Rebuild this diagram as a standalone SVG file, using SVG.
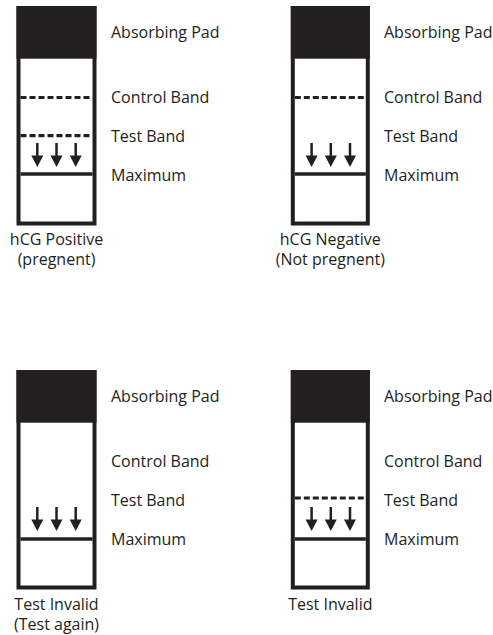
<svg xmlns="http://www.w3.org/2000/svg" width="493" height="635" viewBox="0 0 493 635">
<style>
  text { font-family: "Open Sans", "Liberation Sans", sans-serif; font-size: 16px; fill: #231f20; }
  .mid { text-anchor: middle; }
  .frame { fill: #ffffff; stroke: #231f20; stroke-width: 4; }
  .pad { fill: #231f20; }
  .max { stroke: #231f20; stroke-width: 3.5; fill: none; }
  .band { stroke: #231f20; stroke-width: 3.2; stroke-dasharray: 6 3; fill: none; }
  .shaft { stroke: #231f20; stroke-width: 2.5; fill: none; }
  .head { fill: #231f20; }
</style>
<defs>
  <g id="arrows">
    <line class="shaft" x1="20.8" y1="0" x2="20.8" y2="15"/>
    <polygon class="head" points="14.8,12.5 26.8,12.5 20.8,24"/>
    <line class="shaft" x1="40" y1="0" x2="40" y2="15"/>
    <polygon class="head" points="34,12.5 46,12.5 40,24"/>
    <line class="shaft" x1="59.2" y1="0" x2="59.2" y2="15"/>
    <polygon class="head" points="53.2,12.5 65.2,12.5 59.2,24"/>
  </g>
  <g id="labels">
    <text x="0" y="37.5">Absorbing Pad</text>
    <text x="0" y="103">Control Band</text>
    <text x="0" y="141.5">Test Band</text>
    <text x="0" y="181">Maximum</text>
  </g>
</defs>

<g id="strip-positive" transform="translate(16.5,0)">
  <rect class="frame" x="2" y="8" width="76" height="215.5"/>
  <rect class="pad" x="0" y="6" width="80" height="52.7"/>
  <line class="band" x1="4" y1="97.5" x2="76" y2="97.5"/>
  <line class="band" x1="4" y1="135.7" x2="76" y2="135.7"/>
  <use href="#arrows" transform="translate(0,143)"/>
  <line class="max" x1="4" y1="174" x2="76" y2="174"/>
  <use href="#labels" transform="translate(94.5,0)"/>
  <text class="mid" x="40" y="245">hCG Positive</text>
  <text class="mid" x="40" y="265">(pregnent)</text>
</g>

<g id="strip-negative" transform="translate(290.8,0)">
  <rect class="frame" x="2" y="8" width="75" height="215.5"/>
  <rect class="pad" x="0" y="6" width="79" height="52.7"/>
  <line class="band" x1="4" y1="97.5" x2="75" y2="97.5"/>
  <use href="#arrows" transform="translate(0,143)"/>
  <line class="max" x1="4" y1="174" x2="75" y2="174"/>
  <use href="#labels" transform="translate(93.2,0)"/>
  <text class="mid" x="39.5" y="245">hCG Negative</text>
  <text class="mid" x="39.5" y="265">(Not pregnent)</text>
</g>

<g id="strip-invalid-1" transform="translate(16.5,364)">
  <rect class="frame" x="2" y="8" width="76" height="215.5"/>
  <rect class="pad" x="0" y="6" width="80" height="52.7"/>
  <use href="#arrows" transform="translate(0,143)"/>
  <line class="max" x1="4" y1="175" x2="76" y2="175"/>
  <use href="#labels" transform="translate(94.5,0)"/>
  <text class="mid" x="40" y="246">Test Invalid</text>
  <text class="mid" x="40" y="266">(Test again)</text>
</g>

<g id="strip-invalid-2" transform="translate(290.8,364)">
  <rect class="frame" x="2" y="8" width="75" height="215.5"/>
  <rect class="pad" x="0" y="6" width="79" height="52.7"/>
  <line class="band" x1="4" y1="134" x2="75" y2="134"/>
  <use href="#arrows" transform="translate(0,143)"/>
  <line class="max" x1="4" y1="175" x2="75" y2="175"/>
  <use href="#labels" transform="translate(93.2,0)"/>
  <text class="mid" x="39.5" y="246">Test Invalid</text>
</g>

<g id="connectors"></g>
</svg>
